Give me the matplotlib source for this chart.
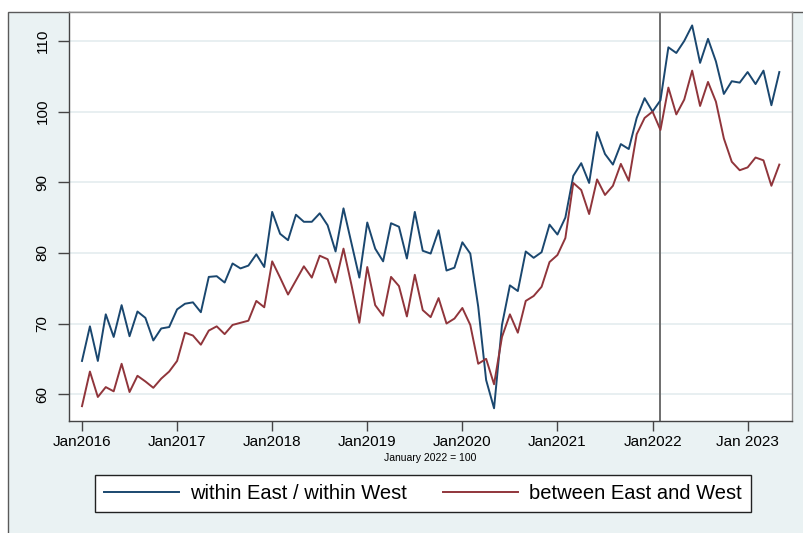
import numpy as np
import matplotlib
matplotlib.use("Agg")
import matplotlib.pyplot as plt
from matplotlib.patches import Rectangle

plt.rcParams['font.family'] = ['Liberation Sans', 'DejaVu Sans']

# Monthly index values, Jan 2016 - May 2023 (January 2022 = 100)
within = [64.7, 69.6, 64.7, 71.3, 68.1, 72.6, 68.2, 71.7, 70.8, 67.6, 69.3, 69.5,
          72.0, 72.8, 73.0, 71.6, 76.6, 76.7, 75.8, 78.5, 77.8, 78.2, 79.8, 78.0,
          85.8, 82.7, 81.8, 85.4, 84.4, 84.4, 85.6, 83.9, 80.2, 86.3, 81.4, 76.5,
          84.3, 80.6, 78.8, 84.2, 83.7, 79.2, 85.8, 80.3, 79.9, 83.2, 77.5, 77.9,
          81.5, 79.9, 72.4, 62.0, 58.0, 69.8, 75.4, 74.6, 80.2, 79.3, 80.1, 84.0,
          82.6, 85.0, 90.9, 92.7, 89.9, 97.1, 94.0, 92.5, 95.4, 94.7, 99.1, 101.9,
          100.0, 101.6, 109.1, 108.3, 110.0, 112.2, 106.9, 110.3, 107.1, 102.5, 104.3, 104.1,
          105.6, 103.9, 105.8, 100.9, 105.6]
between = [58.3, 63.2, 59.6, 61.0, 60.4, 64.3, 60.3, 62.6, 61.8, 60.9, 62.2, 63.2,
           64.7, 68.7, 68.3, 67.0, 69.0, 69.6, 68.5, 69.8, 70.1, 70.4, 73.2, 72.3,
           78.8, 76.5, 74.1, 76.1, 78.1, 76.5, 79.6, 79.1, 75.8, 80.6, 75.5, 70.1,
           78.0, 72.6, 71.1, 76.6, 75.3, 71.0, 76.9, 71.9, 70.9, 73.6, 70.0, 70.7,
           72.2, 69.8, 64.3, 65.0, 61.4, 68.1, 71.3, 68.7, 73.2, 73.9, 75.2, 78.7,
           79.7, 82.1, 89.9, 88.9, 85.5, 90.4, 88.2, 89.5, 92.6, 90.2, 96.8, 99.1,
           100.0, 97.4, 103.4, 99.6, 101.7, 105.8, 100.8, 104.2, 101.4, 96.2, 92.9, 91.7,
           92.1, 93.5, 93.1, 89.5, 92.5]
tick_labels = ["Jan2016", "Jan2017", "Jan2018", "Jan2019", "Jan2020",
               "Jan2021", "Jan2022", "Jan 2023"]
y_ticks = [60, 70, 80, 90, 100, 110]
marker_index = 73  # Feb 2022, months since Jan 2016
series_names = ["within East / within West", "between East and West"]

W, H = 804, 533
fig = plt.figure(figsize=(W / 100, H / 100), dpi=100, facecolor='white')

# graph region (Stata s2color)
bg = Rectangle((8 / W, -0.01), 1.0, 1 - 12 / H + 0.01, transform=fig.transFigure,
               facecolor='#EAF2F3', edgecolor='#5a5a5a', linewidth=1.0, zorder=-5)
fig.patches.append(bg)

left, right, top, bottom = 69, 792, 12, 421
ax = fig.add_axes([left / W, 1 - bottom / H, (right - left) / W, (bottom - top) / H])
ax.set_zorder(1)
ax.set_facecolor('white')

t = np.arange(len(within))
ax.plot(t, within, color='#1A476F', lw=1.4, label=series_names[0], zorder=3)
ax.plot(t, between, color='#90353B', lw=1.4, label=series_names[1], zorder=3)
ax.axvline(marker_index, color='#6e6e6e', lw=1.4, zorder=2)

ax.set_xlim(-1.64, 89.6)
ax.set_ylim(56.2, 114.1)
ax.set_xticks(np.arange(len(tick_labels)) * 12)
ax.set_xticklabels(tick_labels, fontsize=11)
ax.set_yticks(y_ticks)
ax.set_yticklabels([str(v) for v in y_ticks], fontsize=11, rotation=90, va='center')
ax.grid(axis='y', color='#E6EEF0', lw=1.3, zorder=1)
ax.set_axisbelow(True)
ax.tick_params(axis='both', direction='out', color='#444444', width=1.0)
ax.tick_params(axis='y', length=8, pad=6)
ax.tick_params(axis='x', length=7, pad=3)
for s in ax.spines.values():
    s.set_color('#444444')
    s.set_linewidth(1.0)
for s in ['top', 'right']:
    ax.spines[s].set_color('#8a8a8a')

fig.text(430 / W, 1 - 458 / H, "January 2022 = 100", fontsize=7.5, ha='center', va='center')

leg = fig.legend(loc='center', bbox_to_anchor=((95 + 751) / 2 / W, 1 - 493.5 / H),
                 ncol=2, fontsize=14.5, frameon=True, fancybox=False, framealpha=1,
                 handlelength=3.7, handletextpad=0.55, columnspacing=1.8,
                 borderpad=0.45, borderaxespad=0)
leg.get_frame().set_edgecolor('#222222')
leg.get_frame().set_linewidth(1.0)
leg.get_frame().set_facecolor('white')

fig.savefig('out.png', dpi=100, facecolor=fig.get_facecolor())
